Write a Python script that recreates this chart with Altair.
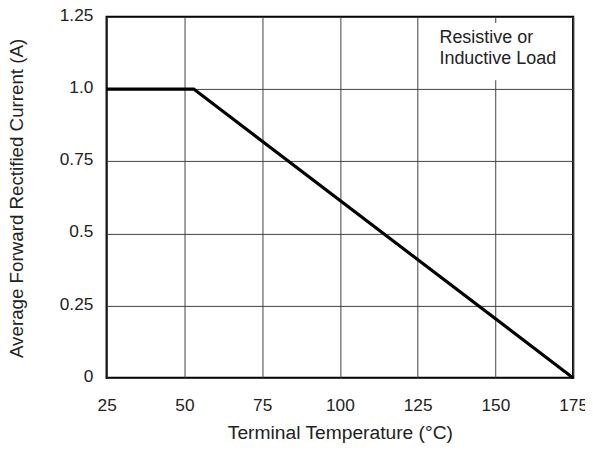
import altair as alt
import pandas as pd

# Derating curve (Terminal temperature °C vs average forward rectified current A)
temps = [25, 53, 175]
currents = [1.0, 1.0, 0.0]

x_ticks = [25, 50, 75, 100, 125, 150, 175]
y_ticks = [0, 0.25, 0.5, 0.75, 1.0, 1.25]

# Annotation
note_lines = ["Resistive or", "Inductive Load"]
note_x = [132.0, 132.0]
note_y = [1.176, 1.105]
box_x = [131.0]
box_x2 = [171.0]
box_y = [1.031]
box_y2 = [1.229]

FONT = "Liberation Sans"

curve = pd.DataFrame({"t": temps, "i": currents})
notes = pd.DataFrame({"label": note_lines, "x": note_x, "y": note_y})
box = pd.DataFrame({"x": box_x, "x2": box_x2, "y": box_y, "y2": box_y2})

xscale = alt.Scale(domain=[25, 175], nice=False, zero=False)
yscale = alt.Scale(domain=[0, 1.25], nice=False)

xaxis = alt.Axis(
    values=x_ticks, title="Terminal Temperature (°C)", grid=True,
    gridColor="#404040", gridWidth=1, gridOpacity=1, ticks=False, domain=False,
    labelFont=FONT, labelFontSize=17.5, labelColor="#222222", labelPadding=19,
    labelFlush=False,
    titleFont=FONT, titleFontSize=19.5, titleFontWeight="normal", titleColor="#222222",
    titleY=61, titleBaseline="alphabetic",
)
yaxis = alt.Axis(
    values=y_ticks, title="Average Forward Rectified Current (A)", grid=True,
    gridColor="#404040", gridWidth=1, gridOpacity=1, ticks=False, domain=False,
    labelFont=FONT, labelFontSize=17.5, labelColor="#222222", labelPadding=14,
    labelFlush=False, labelOffset=-1.5,
    labelExpr="datum.value == 0 ? '0' : datum.value == 0.5 ? '0.5' : datum.value == 1 ? '1.0' : format(datum.value, '.2f')",
    titleFont=FONT, titleFontSize=19, titleFontWeight="normal", titleColor="#222222",
    titleX=-90.8, titleY=183.5, titleBaseline="middle", titleAngle=270,
)

line = alt.Chart(curve).mark_line(color="black", strokeWidth=3.2).encode(
    x=alt.X("t:Q", scale=xscale, axis=xaxis),
    y=alt.Y("i:Q", scale=yscale, axis=yaxis),
)

rect = alt.Chart(box).mark_rect(color="white").encode(
    x=alt.X("x:Q", scale=xscale), x2="x2:Q",
    y=alt.Y("y:Q", scale=yscale), y2="y2:Q",
)

text = alt.Chart(notes).mark_text(
    align="left", baseline="middle", font=FONT, fontSize=18.2, color="#222222"
).encode(
    x=alt.X("x:Q", scale=xscale),
    y=alt.Y("y:Q", scale=yscale),
    text="label:N",
)

chart = alt.layer(rect, line, text).properties(
    width=473, height=366,
    padding={"left": 100, "top": 6, "right": 12, "bottom": 66},
    autosize="none",
    background="white",
).configure_view(stroke="black", strokeWidth=2.2)

chart.save("out.html", embed_options={"renderer": "svg", "actions": False})
